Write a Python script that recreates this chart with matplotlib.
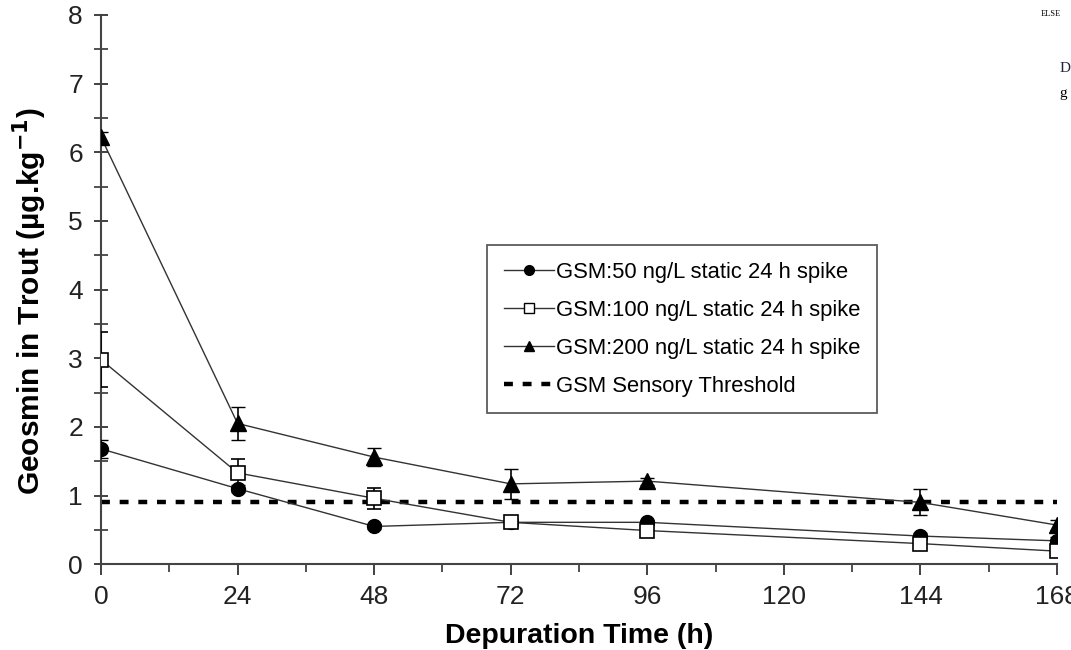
import numpy as np
import matplotlib
matplotlib.use('Agg')
import matplotlib.pyplot as plt
from matplotlib.ticker import MultipleLocator
from matplotlib.lines import Line2D

plt.rcParams['font.family'] = ['Liberation Sans', 'DejaVu Sans']

# depuration time (h)
hours = [0, 24, 48, 72, 96, 144, 168]

# geosmin in trout (ug/kg)
gsm50 = [1.68, 1.10, 0.55, 0.61, 0.61, 0.41, 0.34]
gsm50_err = [0.13, 0.05, 0.04, 0.05, 0.04, 0.04, 0.05]
gsm100 = [2.98, 1.33, 0.96, 0.61, 0.49, 0.30, 0.19]
gsm100_err = [0.40, 0.20, 0.15, 0.05, 0.06, 0.06, 0.06]
gsm200 = [6.22, 2.05, 1.56, 1.17, 1.21, 0.90, 0.57]
gsm200_err = [0.08, 0.24, 0.13, 0.22, 0.05, 0.19, 0.07]
threshold = 0.91

labels = ['GSM:50 ng/L static 24 h spike',
          'GSM:100 ng/L static 24 h spike',
          'GSM:200 ng/L static 24 h spike',
          'GSM Sensory Threshold']

fig = plt.figure(figsize=(10.71, 6.5), dpi=100)
ax = fig.add_axes([0.0943, 0.132, 0.8927, 0.845])

lc = '#333333'
ax.errorbar(hours, gsm50, yerr=gsm50_err, color=lc, lw=1.0, marker='o', ms=10,
            mfc='black', mec='black', ecolor='black', elinewidth=1.2, capsize=5,
            zorder=3)
ax.errorbar(hours, gsm100, yerr=gsm100_err, color=lc, lw=1.0, marker='s', ms=10,
            mfc='white', mec='black', mew=1.2, ecolor='black', elinewidth=1.2,
            capsize=5, zorder=3)
ax.errorbar(hours, gsm200, yerr=gsm200_err, color=lc, lw=1.0, marker='^', ms=11,
            mfc='black', mec='black', ecolor='black', elinewidth=1.2, capsize=5,
            zorder=3)
ax.plot([hours[0], hours[-1]], [threshold, threshold], color='black', lw=3.2,
        ls=(0, (2, 2.2)), zorder=2)

ax.set_xlim(0, 168)
ax.set_ylim(0, 8)
ax.set_xticks(range(0, 169, 24))
ax.xaxis.set_minor_locator(MultipleLocator(12))
ax.yaxis.set_minor_locator(MultipleLocator(0.5))

for s in ['top', 'right']:
    ax.spines[s].set_visible(False)
for s in ['left', 'bottom']:
    ax.spines[s].set_color('#444444')
    ax.spines[s].set_linewidth(1.5)

ax.tick_params(axis='x', which='major', direction='out', length=8, width=1.3,
               colors='#333333', labelsize=19, pad=7)
ax.tick_params(axis='x', which='minor', direction='out', length=6, width=1.2,
               colors='#333333')
ax.tick_params(axis='y', which='major', direction='inout', length=10, width=1.3,
               colors='#333333', labelsize=19, pad=8)
ax.tick_params(axis='y', which='minor', direction='inout', length=10, width=1.2,
               colors='#333333')
for t in ax.get_xticklabels() + ax.get_yticklabels():
    t.set_color('#222222')

ax.set_xlabel('Depuration Time (h)', fontsize=20.5, fontweight='bold', labelpad=10)
ax.set_ylabel('Geosmin in Trout (µg.kg$^{\\mathbf{-1}}$)', fontsize=21.5,
              fontweight='bold')
ax.yaxis.set_label_coords(-0.054, 0.479)

handles = [
    Line2D([], [], color=lc, lw=1.0, marker='o', ms=7, mfc='black', mec='black'),
    Line2D([], [], color=lc, lw=1.0, marker='s', ms=7, mfc='white', mec='black'),
    Line2D([], [], color=lc, lw=1.0, marker='^', ms=7, mfc='black', mec='black'),
    Line2D([], [], color='black', lw=3.2, ls=(0, (2, 2.2))),
]
leg = ax.legend(handles, labels, loc='upper left', bbox_to_anchor=(0.404, 0.581),
                fontsize=15.8, frameon=True, fancybox=False, edgecolor='#333333',
                handlelength=2.3, handletextpad=0.1, labelspacing=0.78,
                borderpad=0.75, borderaxespad=0)
leg.get_frame().set_linewidth(1.3)

# scanned page fragments at the right edge
fig.text(0.972, 0.985, 'ELSE', fontsize=6, family='Liberation Serif',
         va='top', ha='left')
fig.text(0.989, 0.895, 'D', fontsize=11, family='Liberation Serif',
         va='center', ha='left', color='#222244')
fig.text(0.989, 0.856, 'g', fontsize=11, family='Liberation Serif',
         va='center', ha='left')

fig.savefig('out.png', dpi=100)
